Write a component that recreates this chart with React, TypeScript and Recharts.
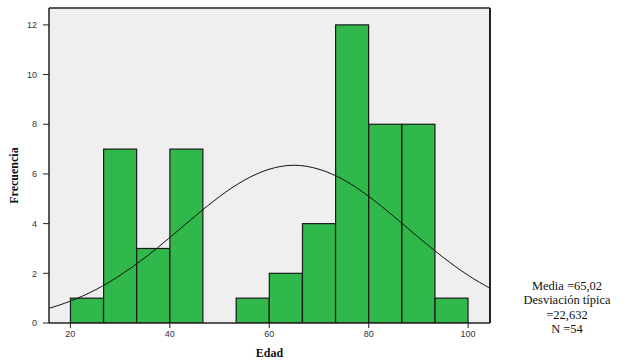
import {
  ComposedChart,
  Bar,
  Line,
  XAxis,
  YAxis,
  CartesianGrid,
} from "recharts";

// histogram bins (Edad), width 6.67
const binStarts = [20, 26.67, 33.33, 40, 46.67, 53.33, 60, 66.67, 73.33, 80, 86.67, 93.33];
const binWidth = 6.667;
const counts = [1, 7, 3, 7, 0, 1, 2, 4, 12, 8, 8, 1];

// normal curve
const curveX = [15.7, 20, 25, 30, 35, 40, 45, 50, 55, 60, 65, 70, 75, 80, 85, 90, 95, 100, 104.4];
const curveY = [0.59, 0.88, 1.33, 1.92, 2.63, 3.44, 4.29, 5.09, 5.75, 6.19, 6.35, 6.19, 5.76, 5.1, 4.3, 3.45, 2.64, 1.92, 1.4];

const xTicks = [20, 40, 60, 80, 100];
const yTicks = [0, 2, 4, 6, 8, 10, 12];

const statLines = ["Media =65,02", "Desviación típica", "=22,632", "N =54"];

const bins = binStarts.map((s, i) => ({ x: s + binWidth / 2, count: counts[i] }));
const curve = curveX.map((x, i) => ({ x, curve: curveY[i] }));

const tickStyle = { fontSize: 9, fill: "#333", fontFamily: "Liberation Sans, Arial, sans-serif" };
const serif = "Liberation Serif, Times New Roman, serif";
const BAR_W = 33;

// fixed-width histogram bar centred on the bin
const HistBar = (props: any) => {
  const { x, y, width, height } = props;
  if (!height || height <= 0) return null;
  const cx = x + width / 2;
  return (
    <rect x={cx - BAR_W / 2} y={y} width={BAR_W} height={height} fill="#30b84b" stroke="#1a1a1a" strokeWidth={1.2} />
  );
};

export default function App() {
  return (
    <div style={{ position: "absolute", left: 0, top: 0, width: 640, height: 361, background: "#fff" }}>
      <ComposedChart
        width={640}
        height={361}
        data={bins}
        margin={{ top: 7, right: 149, left: 0, bottom: 0 }}
      >
        <CartesianGrid fill="#efefef" horizontal={false} vertical={false} />
        <XAxis
          xAxisId="b"
          dataKey="x"
          type="number"
          domain={[15.7, 104.4]}
          allowDataOverflow
          ticks={xTicks}
          tickSize={5}
          tickMargin={3}
          height={38}
          tick={tickStyle}
          stroke="#222"
          tickLine={{ stroke: "#222" }}
          axisLine={{ stroke: "#222", strokeWidth: 1.5 }}
          label={{
            value: "Edad",
            position: "insideBottom",
            offset: 4,
            style: { fontFamily: serif, fontWeight: "bold", fontSize: 12, fill: "#111" },
          }}
        />
        <XAxis
          xAxisId="t"
          orientation="top"
          type="number"
          domain={[15.7, 104.4]}
          height={1}
          tick={false}
          tickLine={false}
          axisLine={{ stroke: "#222", strokeWidth: 1.5 }}
        />
        <YAxis
          yAxisId="l"
          type="number"
          domain={[0, 12.68]}
          allowDataOverflow
          ticks={yTicks}
          width={49}
          tickSize={6}
          tickMargin={6}
          tick={tickStyle}
          tickLine={{ stroke: "#222" }}
          axisLine={{ stroke: "#222", strokeWidth: 1.5 }}
          label={{
            value: "Frecuencia",
            angle: -90,
            position: "insideLeft",
            offset: 14,
            dy: 10,
            style: { fontFamily: serif, fontWeight: "bold", fontSize: 12, fill: "#111", textAnchor: "middle" },
          }}
        />
        <YAxis
          yAxisId="r"
          orientation="right"
          type="number"
          domain={[0, 12.68]}
          width={1}
          tick={false}
          tickLine={false}
          axisLine={{ stroke: "#222", strokeWidth: 2 }}
        />
        <Bar
          xAxisId="b"
          yAxisId="l"
          dataKey="count"
          shape={HistBar}
          isAnimationActive={false}
        />
        <Line
          xAxisId="b"
          yAxisId="l"
          data={curve}
          dataKey="curve"
          type="natural"
          stroke="#111"
          strokeWidth={1}
          dot={false}
          activeDot={false}
          isAnimationActive={false}
        />
      </ComposedChart>
      <div
        style={{
          position: "absolute",
          left: 500,
          top: 279,
          width: 134,
          textAlign: "center",
          fontFamily: serif,
          fontSize: 12.5,
          lineHeight: "14.3px",
          color: "#111",
        }}
      >
        {statLines.map((t) => (
          <div key={t}>{t}</div>
        ))}
      </div>
    </div>
  );
}
